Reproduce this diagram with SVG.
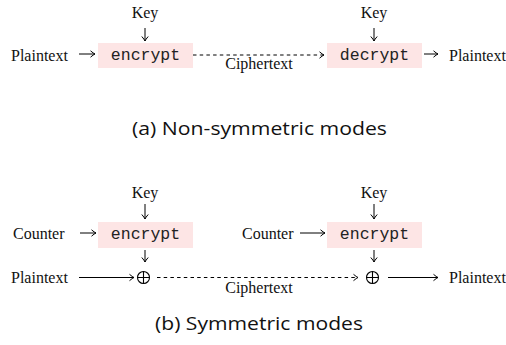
<svg xmlns="http://www.w3.org/2000/svg" width="506" height="345" viewBox="0 0 506 345">
<defs>
<marker id="ah" markerUnits="userSpaceOnUse" markerWidth="12" markerHeight="12" viewBox="-6 -6 12 12" refX="0" refY="0" orient="auto" overflow="visible">
<path d="M-4.5,-3.2 Q-1.5,-0.6 0,0 Q-1.5,0.6 -4.5,3.2" fill="none" stroke="#000" stroke-width="1"/>
</marker>
</defs>
<style>
.s{font-family:"Liberation Serif","Times New Roman",serif;font-size:16px;fill:#111}
.m{font-family:"Liberation Mono","Courier New",monospace;font-size:16.5px;fill:#222;text-anchor:middle}
.c{font-family:"Open Sans","Noto Sans",sans-serif;font-size:19px;fill:#111;text-anchor:middle}
.box{fill:#fde5e5;stroke:none}
.ln{stroke:#000;stroke-width:1;fill:none;marker-end:url(#ah)}
.dl{stroke:#000;stroke-width:1;fill:none;stroke-dasharray:3.5 3.2;marker-end:url(#ah)}
.x{stroke:#000;stroke-width:1.1;fill:none}
</style>
<rect width="506" height="345" fill="#fff"/>

<g id="a-plain-in"><text class="s" x="11" y="61">Plaintext</text></g>
<g id="a-key1"><text class="s" x="145" y="18" text-anchor="middle">Key</text></g>
<g id="a-encrypt"><rect class="box" x="98" y="43" width="95" height="25"/><text class="m" x="145.5" y="60">encrypt</text></g>
<g id="a-key2"><text class="s" x="374" y="18" text-anchor="middle">Key</text></g>
<g id="a-decrypt"><rect class="box" x="327" y="43" width="95" height="25"/><text class="m" x="374.5" y="60">decrypt</text></g>
<g id="a-plain-out"><text class="s" x="449" y="61">Plaintext</text></g>
<g id="a-cipher"><text class="s" x="259" y="69" text-anchor="middle">Ciphertext</text></g>
<g id="a-caption"><text class="c" x="259.5" y="135" textLength="255" lengthAdjust="spacingAndGlyphs">(a) Non-symmetric modes</text></g>

<g id="b-key1"><text class="s" x="145" y="198" text-anchor="middle">Key</text></g>
<g id="b-counter1"><text class="s" x="13" y="239">Counter</text></g>
<g id="b-encrypt1"><rect class="box" x="98" y="222" width="95" height="26"/><text class="m" x="145.5" y="239">encrypt</text></g>
<g id="b-key2"><text class="s" x="374" y="198" text-anchor="middle">Key</text></g>
<g id="b-counter2"><text class="s" x="242" y="239">Counter</text></g>
<g id="b-encrypt2"><rect class="box" x="327" y="222" width="95" height="26"/><text class="m" x="374.5" y="239">encrypt</text></g>
<g id="b-plain-in"><text class="s" x="11" y="283">Plaintext</text></g>
<g id="b-xor1"><circle class="x" cx="143.5" cy="277.5" r="6"/><path class="x" d="M137.5,277.5 H149.5 M143.5,271.5 V283.5"/></g>
<g id="b-xor2"><circle class="x" cx="372.5" cy="277.5" r="6"/><path class="x" d="M366.5,277.5 H378.5 M372.5,271.5 V283.5"/></g>
<g id="b-plain-out"><text class="s" x="449" y="283">Plaintext</text></g>
<g id="b-cipher"><text class="s" x="259" y="293" text-anchor="middle">Ciphertext</text></g>
<g id="b-caption"><text class="c" x="259" y="330" textLength="208" lengthAdjust="spacingAndGlyphs">(b) Symmetric modes</text></g>

<g id="connectors">
<path class="ln" d="M145,28 V41"/>
<path class="ln" d="M374,28 V41"/>
<path class="ln" d="M79,54 H95"/>
<path class="dl" d="M193,55 H324"/>
<path class="ln" d="M424,54 H438"/>

<path class="ln" d="M145,204 V219"/>
<path class="ln" d="M374,204 V219"/>
<path class="ln" d="M80,233 H96"/>
<path class="ln" d="M300,233 H325"/>
<path class="ln" d="M145,250 V262"/>
<path class="ln" d="M374,250 V262"/>
<path class="ln" d="M79,277.5 H134"/>
<path class="dl" d="M157,277.5 H358"/>
<path class="ln" d="M388,277.5 H438"/>
</g>
</svg>
